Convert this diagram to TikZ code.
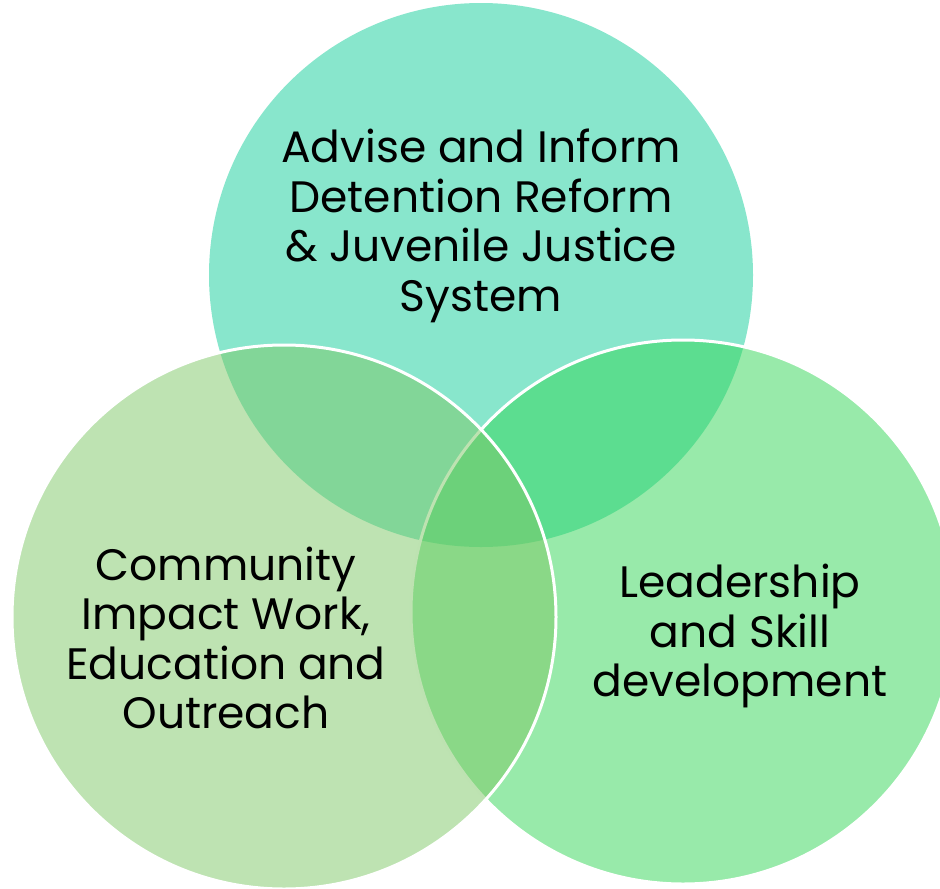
\documentclass[tikz,border=0pt]{standalone}
\usepackage{fontspec}
\setmainfont{Poppins}
\usepackage{tikz}
\usetikzlibrary{math}
\definecolor{tcol}{HTML}{88E6CC}
\definecolor{rcol}{RGB}{49,213,85}
\definecolor{lcol}{RGB}{125,199,101}
\newcommand\rad{272}

\begin{document}
\begin{tikzpicture}[x=1pt, y=-1pt,
  ring/.style={circle, inner sep=0pt, minimum size=\d pt},
  label/.style={align=center, inner sep=0pt, font=\fontsize{44}{49.5}\selectfont}]

\tikzmath{
			\d = 2 * \rad;
          }

\useasboundingbox (0,0) rectangle (940,889);

\node[ring, fill=tcol] (topc) at (481,275) {};
\node[ring, fill=rcol, fill opacity=0.5, draw=white, line width=3pt] (rightc) at (683,612) {};
\node[ring, fill=lcol, fill opacity=0.5, draw=white, line width=3pt] (leftc) at (284,617) {};

\node[label] (toptext) at (481,226) {Advise and Inform\\Detention Reform\\\& Juvenile Justice\\System};
\node[label] (lefttext) at (226,638) {Community\\Impact Work,\\Education and\\Outreach};
\node[label] (righttext) at (740,636) {Leadership\\and Skill\\development};

\end{tikzpicture}
\end{document}
